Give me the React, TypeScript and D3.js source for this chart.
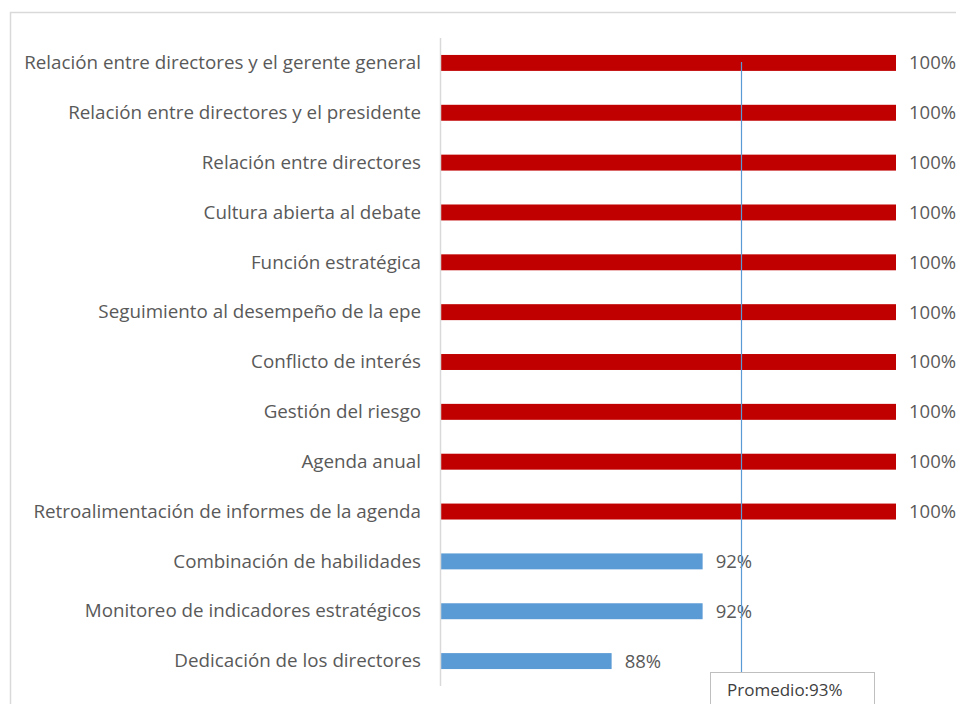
import React from "react";
import * as d3 from "d3";

const categories = [
  "Relación entre directores y el gerente general",
  "Relación entre directores y el presidente",
  "Relación entre directores",
  "Cultura abierta al debate",
  "Función estratégica",
  "Seguimiento al desempeño de la epe",
  "Conflicto de interés",
  "Gestión del riesgo",
  "Agenda anual",
  "Retroalimentación de informes de la agenda",
  "Combinación de habilidades",
  "Monitoreo de indicadores estratégicos",
  "Dedicación de los directores",
];
const values = [1, 1, 1, 1, 1, 1, 1, 1, 1, 1, 0.915, 0.915, 0.875];
const average = 0.932;
const averageLabel = "Promedio:";
const xDomain = [0.8, 1.0];

const W = 956;
const H = 704;
const FONT = "'Open Sans', sans-serif";

export default function App() {
  const x = d3.scaleLinear().domain(xDomain).range([441, 896]);
  const y = d3
    .scaleBand<string>()
    .domain(categories)
    .range([38, 686])
    .paddingInner(0.68)
    .paddingOuter(0.34);
  const fmt = d3.format(".0%");
  const bh = y.bandwidth();
  const ax = x(xDomain[0]);
  const avgX = Math.round(x(average)) + 0.5;
  const boxTop = 672;
  return (
    <svg
      width={W}
      height={H}
      style={{ position: "absolute", left: 0, top: 0, background: "#fff" }}
    >
      <rect x={10.5} y={12.5} width={W + 20} height={H + 20} fill="#fff" stroke="#D9D9D9" strokeWidth={1.5} />
      {categories.map((c, i) => {
        const v = values[i];
        const yy = y(c)!;
        const cy = yy + bh / 2;
        return (
          <g key={c}>
            <rect
              x={ax}
              y={yy}
              width={x(v) - ax}
              height={bh}
              fill={v > average ? "#C00000" : "#5B9BD5"}
            />
            <text
              x={421}
              y={cy}
              dy="0.33em"
              textAnchor="end"
              fontFamily={FONT}
              fontSize={18.8}
              fill="#595959"
            >
              {c}
            </text>
            <text
              x={x(v) + 13}
              y={cy}
              dy="0.35em"
              fontFamily={FONT}
              fontSize={18.5}
              fill="#595959"
            >
              {fmt(v)}
            </text>
          </g>
        );
      })}
      <line x1={ax - 0.5} x2={ax - 0.5} y1={38} y2={686} stroke="#D9D9D9" strokeWidth={1.5} />
      <line x1={avgX} x2={avgX} y1={62} y2={boxTop} stroke="#5B9BD5" strokeWidth={1.2} />
      <rect x={710.5} y={boxTop + 0.5} width={164} height={60} fill="#fff" stroke="#BFBFBF" strokeWidth={1} />
      <text x={727} y={696} fontFamily={FONT} fontSize={17} fill="#404040">
        {averageLabel + fmt(average)}
      </text>
    </svg>
  );
}
